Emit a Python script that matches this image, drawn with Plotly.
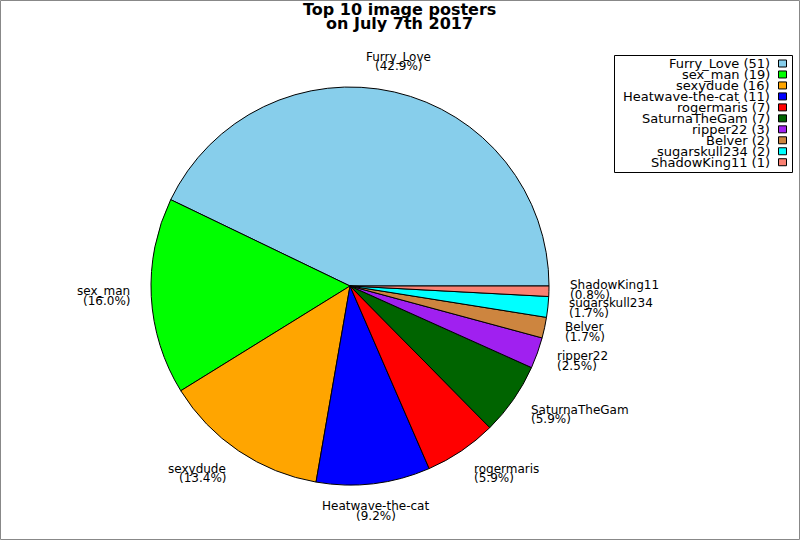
import math
import plotly.graph_objects as go

# ---- data ----
labels = ["Furry_Love", "sex_man", "sexydude", "Heatwave-the-cat", "rogermaris",
          "SaturnaTheGam", "ripper22", "Belver", "sugarskull234", "ShadowKing11"]
values = [51, 19, 16, 11, 7, 7, 3, 2, 2, 1]
colors = ["#87CEEB", "#00FF00", "#FFA500", "#0000FF", "#FF0000",
          "#006400", "#A020F0", "#CD853F", "#00FFFF", "#FA8072"]
title_lines = ["Top 10 image posters", "on July 7th 2017"]

W, H = 800, 540
CX, CY, R = 350.0, 286.0, 199.0
FONT = "DejaVu Sans"

def px(x):
    return x / W

def py(y):
    return 1 - y / H

total = sum(values)
# plotly (counterclockwise) places the END of the first slice at `rotation`;
# shift so that the first slice starts at 3 o'clock
rotation = 90 - values[0] / total * 360

fig = go.Figure()
fig.add_trace(go.Pie(
    labels=labels, values=values, sort=False, direction="counterclockwise",
    rotation=rotation, textinfo="none", hoverinfo="label+value+percent",
    marker=dict(colors=colors, line=dict(color="black", width=1)),
    domain=dict(x=[px(CX - R), px(CX + R)], y=[py(CY + R), py(CY - R)]),
    showlegend=False,
))

annotations = []
shapes = []

# slice labels
cum = 0.0
LR = 1.1 * R
LINE = 9.5
for lab, v in zip(labels, values):
    mid = (cum + v / 2) / total * 2 * math.pi
    cum += v
    c, s = math.cos(mid), math.sin(mid)
    ax = CX + LR * c
    ay = CY - LR * s
    if c > 0.35:
        xa = "left"
    elif c < -0.35:
        xa = "right"
    else:
        xa = "center"
    bc = ay - s * 9.5 - 2
    pct = "(%.1f%%)" % (v / total * 100)
    for k, txt in enumerate([lab, pct]):
        yy = bc - LINE / 2 + k * LINE
        annotations.append(dict(
            x=px(ax), y=py(yy), xref="paper", yref="paper", text=txt,
            showarrow=False, xanchor=xa, yanchor="middle", borderpad=0,
            font=dict(family=FONT, size=12, color="black"),
        ))

# title
for k, t in enumerate(title_lines):
    annotations.append(dict(
        x=px(399), y=py(10 + 14 * k), xref="paper", yref="paper",
        text="<b>%s</b>" % t, showarrow=False, xanchor="center", yanchor="middle",
        font=dict(family=FONT, size=16, color="black"),
    ))

# legend
LX0, LX1, LY0, LY1 = 614.5, 792.5, 55.5, 172.5
shapes.append(dict(type="rect", xref="paper", yref="paper",
                   x0=px(LX0), x1=px(LX1), y0=py(LY0), y1=py(LY1),
                   line=dict(color="black", width=1), fillcolor="white", layer="below"))
ROW0, ROWSTEP = 63.5, 10.97
for i, (lab, v, col) in enumerate(zip(labels, values, colors)):
    ry = ROW0 + i * ROWSTEP
    annotations.append(dict(
        x=px(771), y=py(ry), xref="paper", yref="paper",
        text="%s (%d)" % (lab, v), showarrow=False, xanchor="right", yanchor="middle",
        borderpad=0, font=dict(family=FONT, size=13, color="black"),
    ))
    shapes.append(dict(type="rect", xref="paper", yref="paper",
                       x0=px(778.5), x1=px(786.5), y0=py(ry - 3.5), y1=py(ry + 3.5),
                       line=dict(color="black", width=1), fillcolor=col))

# outer border
shapes.append(dict(type="rect", xref="paper", yref="paper",
                   x0=px(0.5), x1=px(W - 0.5), y0=py(0.5), y1=py(H - 0.5),
                   line=dict(color="#888888", width=1)))

fig.update_layout(
    width=W, height=H, margin=dict(l=0, r=0, t=0, b=0),
    paper_bgcolor="white", plot_bgcolor="white",
    annotations=annotations, shapes=shapes, showlegend=False,
    font=dict(family=FONT),
)
fig.write_html("out.html", config={"displayModeBar": False},
               post_script="document.body.style.margin='0';document.body.style.overflow='hidden';")
